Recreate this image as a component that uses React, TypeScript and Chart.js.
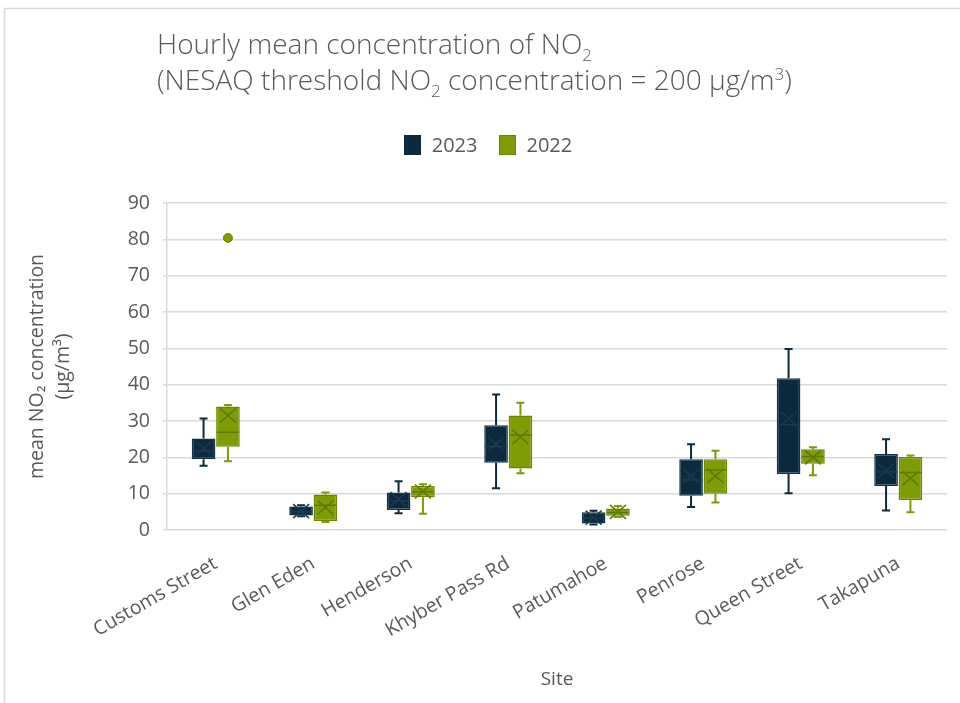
import { useEffect, useRef } from "react";
import { Chart, registerables } from "chart.js";

Chart.register(...registerables);

const sites = [
  "Customs Street",
  "Glen Eden",
  "Henderson",
  "Khyber Pass Rd",
  "Patumahoe",
  "Penrose",
  "Queen Street",
  "Takapuna",
];

// 2023 box statistics
const min2023 = [17.7, 3.8, 4.6, 11.5, 1.5, 6.3, 10.1, 5.4];
const q1_2023 = [19.5, 4.0, 5.5, 18.5, 1.8, 9.4, 15.4, 12.1];
const median2023 = [21.8, 5.0, 8.0, 23.0, 3.3, 13.8, 29.0, 16.0];
const q3_2023 = [25.2, 6.5, 10.3, 28.8, 4.9, 19.5, 41.8, 20.9];
const max2023 = [30.7, 6.8, 13.4, 37.3, 5.3, 23.6, 49.8, 25.0];
const mean2023 = [22.5, 5.2, 8.5, 23.7, 3.4, 14.9, 30.7, 16.3];
const outliers2023: number[][] = [[], [], [], [], [], [], [], []];

// 2022 box statistics
const min2022 = [18.9, 2.2, 4.5, 15.6, 3.6, 7.6, 15.1, 4.9];
const q1_2022 = [22.9, 2.5, 9.0, 16.9, 3.9, 10.0, 18.2, 8.2];
const median2022 = [26.9, 6.8, 10.5, 26.1, 4.8, 16.5, 20.2, 15.8];
const q3_2022 = [34.0, 9.8, 12.1, 31.5, 5.9, 19.5, 22.2, 20.1];
const max2022 = [34.4, 10.3, 12.6, 35.0, 6.6, 21.8, 22.8, 20.5];
const mean2022 = [31.5, 6.2, 10.6, 25.6, 5.0, 14.9, 20.0, 14.2];
const outliers2022: number[][] = [[80.4], [], [], [], [], [], [], []];

const yTicksMin = 0;
const yTicksMax = 90;
const yStep = 10;

const FONT = "'Open Sans', 'Noto Sans', sans-serif";
const TEXT = "#595959";
const GRID = "#d9d9d9";
const NAVY = "#0b2a3e";
const NAVY_EDGE = "#123449";
const NAVY_MARK = "#1c3a4f";
const GREEN = "#7e9c04";
const GREEN_EDGE = "#6b8700";
const GREEN_MARK = "#5f7900";

export default function App() {
  const ref = useRef<HTMLCanvasElement | null>(null);

  useEffect(() => {
    if (!ref.current) return;

    const boxPlugin = {
      id: "boxplotExtras",
      beforeDraw(chart: any) {
        const ctx = chart.ctx;
        ctx.save();
        ctx.fillStyle = "#ffffff";
        ctx.fillRect(0, 0, chart.width, chart.height);
        ctx.strokeStyle = GRID;
        ctx.lineWidth = 1.5;
        ctx.strokeRect(4.5, 8.5, chart.width + 20, chart.height + 20);
        ctx.restore();
      },
      beforeDatasetsDraw(chart: any) {
        const ctx = chart.ctx;
        const y = chart.scales.y;
        chart.data.datasets.forEach((ds: any, di: number) => {
          const meta = chart.getDatasetMeta(di);
          ctx.save();
          ctx.strokeStyle = ds.whiskerColor;
          ctx.lineWidth = 2;
          meta.data.forEach((el: any, i: number) => {
            const x = el.x;
            const yMin = y.getPixelForValue(ds.stats.min[i]);
            const yMax = y.getPixelForValue(ds.stats.max[i]);
            const yQ1 = y.getPixelForValue(ds.stats.q1[i]);
            const yQ3 = y.getPixelForValue(ds.stats.q3[i]);
            const cap = 4;
            ctx.beginPath();
            ctx.moveTo(x, yQ1);
            ctx.lineTo(x, yMin);
            ctx.moveTo(x - cap, yMin);
            ctx.lineTo(x + cap, yMin);
            ctx.moveTo(x, yQ3);
            ctx.lineTo(x, yMax);
            ctx.moveTo(x - cap, yMax);
            ctx.lineTo(x + cap, yMax);
            ctx.stroke();
          });
          ctx.restore();
        });
      },
      afterDatasetsDraw(chart: any) {
        const ctx = chart.ctx;
        const y = chart.scales.y;
        chart.data.datasets.forEach((ds: any, di: number) => {
          const meta = chart.getDatasetMeta(di);
          ctx.save();
          meta.data.forEach((el: any, i: number) => {
            const x = el.x;
            const half = el.width / 2;
            const yMed = y.getPixelForValue(ds.stats.median[i]);
            ctx.strokeStyle = ds.markColor;
            ctx.lineWidth = 1.5;
            ctx.beginPath();
            ctx.moveTo(x - half + 1, yMed);
            ctx.lineTo(x + half - 1, yMed);
            ctx.stroke();
            const yMean = y.getPixelForValue(ds.stats.mean[i]);
            const mx = 8;
            const my = 7;
            ctx.beginPath();
            ctx.moveTo(x - mx, yMean - my);
            ctx.lineTo(x + mx, yMean + my);
            ctx.moveTo(x + mx, yMean - my);
            ctx.lineTo(x - mx, yMean + my);
            ctx.stroke();
            ds.stats.outliers[i].forEach((v: number) => {
              const py = y.getPixelForValue(v);
              ctx.beginPath();
              ctx.arc(x, py, 4.5, 0, Math.PI * 2);
              ctx.fillStyle = ds.backgroundColor;
              ctx.fill();
              ctx.strokeStyle = ds.borderColor;
              ctx.lineWidth = 1;
              ctx.stroke();
            });
          });
          ctx.restore();
        });
      },
    };

    const chart = new Chart(ref.current, {
      type: "bar",
      data: {
        labels: sites,
        datasets: [
          {
            label: "2023",
            data: q1_2023.map((q, i) => [q, q3_2023[i]]),
            backgroundColor: NAVY,
            borderColor: NAVY_EDGE,
            borderWidth: 1.5,
            borderSkipped: false,
            categoryPercentage: 0.5,
            barPercentage: 0.97,
            whiskerColor: NAVY,
            markColor: NAVY_MARK,
            stats: {
              min: min2023,
              q1: q1_2023,
              median: median2023,
              q3: q3_2023,
              max: max2023,
              mean: mean2023,
              outliers: outliers2023,
            },
          } as any,
          {
            label: "2022",
            data: q1_2022.map((q, i) => [q, q3_2022[i]]),
            backgroundColor: GREEN,
            borderColor: GREEN_EDGE,
            borderWidth: 1.5,
            borderSkipped: false,
            categoryPercentage: 0.5,
            barPercentage: 0.97,
            whiskerColor: GREEN,
            markColor: GREEN_MARK,
            stats: {
              min: min2022,
              q1: q1_2022,
              median: median2022,
              q3: q3_2022,
              max: max2022,
              mean: mean2022,
              outliers: outliers2022,
            },
          } as any,
        ],
      },
      options: {
        responsive: false,
        animation: false,
        layout: { padding: { left: 0, right: 13, top: 203, bottom: 0 } },
        plugins: {
          legend: { display: false },
          title: { display: false },
          tooltip: { enabled: false },
        },
        scales: {
          x: {
            grid: { display: false, drawTicks: false },
            border: { display: false },
            ticks: {
              color: TEXT,
              font: { family: FONT, size: 19.5 },
              minRotation: 30,
              maxRotation: 30,
              padding: 22,
            },
            title: {
              display: true,
              text: "Site",
              color: TEXT,
              font: { family: FONT, size: 19 },
              padding: { top: 0, bottom: 12 },
            },
            afterFit(s: any) {
              s.height = 173;
            },
          },
          y: {
            min: yTicksMin,
            max: yTicksMax,
            ticks: {
              stepSize: yStep,
              color: TEXT,
              font: { family: FONT, size: 19.5 },
              padding: 13,
            },
            grid: { color: GRID, lineWidth: 1.5, tickLength: 4 },
            border: { display: true, color: GRID, width: 1.5 },
            title: {
              display: true,
              text: ["mean NO\u2082 concentration", "(\u00b5g/m\u00b3)"],
              color: TEXT,
              font: { family: FONT, size: 19.5, lineHeight: 1.35 },
              padding: { top: 24, bottom: 0 },
            },
            afterFit(s: any) {
              s.width = 167;
            },
          },
        },
      },
      plugins: [boxPlugin],
    });

    return () => chart.destroy();
  }, []);

  return (
    <div
      style={{
        position: "fixed",
        left: 0,
        top: 0,
        width: 960,
        height: 703,
        background: "#fff",
        fontFamily: FONT,
        color: TEXT,
      }}
    >
      <canvas ref={ref} width={960} height={703} style={{ display: "block" }} />
      <div
        style={{
          position: "absolute",
          left: 157,
          top: 25,
          fontSize: 28,
          fontWeight: 300,
          lineHeight: "36px",
          whiteSpace: "nowrap",
        }}
      >
        <div>
          Hourly mean concentration of NO<sub style={{ fontSize: 17, lineHeight: 0 }}>2</sub>
        </div>
        <div>
          (NESAQ threshold NO<sub style={{ fontSize: 17, lineHeight: 0 }}>2</sub> concentration = 200 µg/m
          <sup style={{ fontSize: 17, lineHeight: 0 }}>3</sup>)
        </div>
      </div>
      <div
        style={{
          position: "absolute",
          left: 0,
          width: 960,
          top: 133,
          display: "flex",
          justifyContent: "center",
          alignItems: "center",
          fontSize: 20,
          lineHeight: "24px",
          paddingLeft: 16,
          boxSizing: "border-box",
        }}
      >
        <span style={{ width: 17, height: 20, background: NAVY, display: "inline-block", marginRight: 11 }} />
        <span style={{ marginRight: 21 }}>2023</span>
        <span style={{ width: 17, height: 20, background: GREEN, border: `1px solid ${GREEN_EDGE}`, boxSizing: "border-box", display: "inline-block", marginRight: 11 }} />
        <span>2022</span>
      </div>
    </div>
  );
}
